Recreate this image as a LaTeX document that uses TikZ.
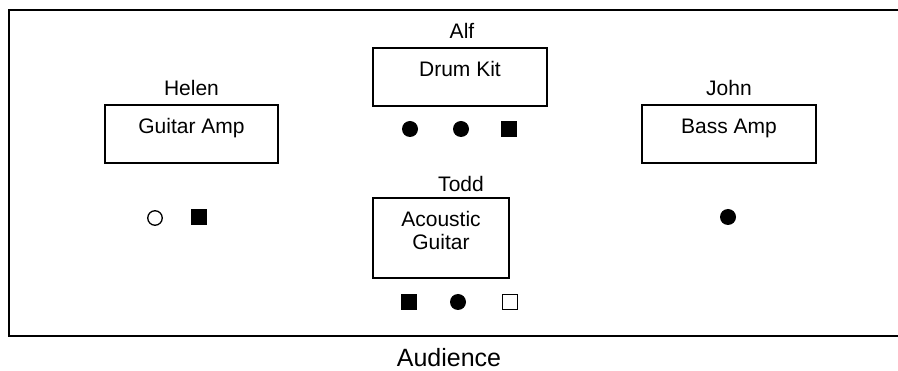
\documentclass[tikz,border=0pt]{standalone}
\usepackage{fontspec}
\setmainfont{Liberation Sans}
\usepackage{tikz}

\begin{document}
\begin{tikzpicture}[x=1pt,y=-1pt,
  stagebox/.style={draw,line width=1.2pt,minimum width=174pt,minimum height=58pt,inner sep=0pt},
  word/.style={inner sep=0pt,font=\fontsize{21}{23}\selectfont},
  dot/.style={circle,fill,inner sep=0pt,minimum size=16pt},
  ring/.style={circle,draw,line width=1.3pt,inner sep=0pt,minimum size=14.5pt},
  blob/.style={fill,inner sep=0pt,minimum size=15.5pt},
  hollow/.style={draw,line width=1.3pt,inner sep=0pt,minimum size=14.5pt}]
  \useasboundingbox (0,0) rectangle (898,371);
  %stage
  \draw[line width=1.8pt] (905,10) -- (9,10) -- (9,336) -- (905,336);
  \node[inner sep=0pt,font=\fontsize{25}{28}\selectfont,anchor=base] (aud) at (449,367) {Audience};

  %left
  \node[stagebox,minimum width=173pt] (gamp) at (191.5,134) {};
  \node[word,at=(gamp.north),below=14pt] (gampt) {Guitar Amp};
  \node[word,at=(gamp.north),above=8pt] (helen) {Helen};
  \node[ring] (h1) at (155,218) {};
  \node[blob] (h2) at (199,217) {};

  %back
  \node[stagebox] (drum) at (460,77) {};
  \node[word,at=(drum.north),below=14pt] (drumt) {Drum Kit};
  \node[word,at=(drum.north),above=9pt,xshift=2pt] (alf) {Alf};
  \node[dot] (a1) at (410,129) {};
  \node[dot] (a2) at (461,129) {};
  \node[blob] (a3) at (509,129) {};

  %front
  \node[stagebox,minimum width=136pt,minimum height=80pt] (acou) at (441,238) {};
  \node[word,align=center,at=(acou.north),below=14pt] (acout) {Acoustic\\Guitar};
  \node[word,at=(acou.north),above=5pt,xshift=20pt] (todd) {Todd};
  \node[blob] (t1) at (409,302) {};
  \node[dot] (t2) at (458,302) {};
  \node[hollow] (t3) at (510,302) {};

  %right
  \node[stagebox] (bamp) at (729,134) {};
  \node[word,at=(bamp.north),below=14pt] (bampt) {Bass Amp};
  \node[word,at=(bamp.north),above=8pt] (john) {John};
  \node[dot] (j1) at (728,217) {};
\end{tikzpicture}
\end{document}
